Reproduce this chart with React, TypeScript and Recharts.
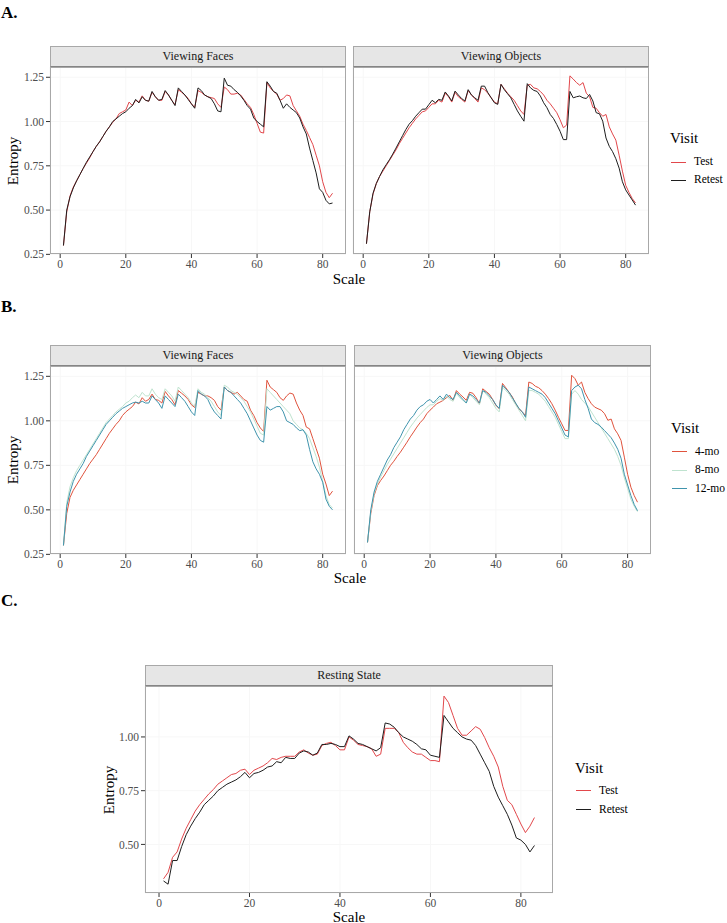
import React from 'react';
import { LineChart, Line, XAxis, YAxis, CartesianGrid } from 'recharts';

const SCALES = [
  1, 2, 3, 4, 5, 6, 7, 8, 9, 10, 11, 12, 13, 14, 15, 16, 17, 18, 19, 20,
  21, 22, 23, 24, 25, 26, 27, 28, 29, 30, 31, 32, 33, 34, 35, 36, 37, 38, 39, 40,
  41, 42, 43, 44, 45, 46, 47, 48, 49, 50, 51, 52, 53, 54, 55, 56, 57, 58, 59, 60,
  61, 62, 63, 64, 65, 66, 67, 68, 69, 70, 71, 72, 73, 74, 75, 76, 77, 78, 79, 80,
  81, 82, 83,
];
const X_TICKS = [0, 20, 40, 60, 80];
const Y_TICKS_AB = [0.25, 0.5, 0.75, 1.0, 1.25];
const Y_TICKS_C = [0.5, 0.75, 1.0];
const VISIT_AC = ['Test', 'Retest'];
const VISIT_B = ['4-mo', '8-mo', '12-mo'];
const FACETS_AB = ['Viewing Faces', 'Viewing Objects'];
const FACET_C = 'Resting State';

// Panel A — Viewing Faces
const A_FACES_TEST = [
  0.30, 0.49, 0.58, 0.63, 0.665, 0.70, 0.735, 0.765, 0.795, 0.83,
  0.86, 0.885, 0.915, 0.945, 0.97, 0.995, 1.015, 1.045, 1.055, 1.065,
  1.11, 1.09, 1.12, 1.11, 1.145, 1.12, 1.115, 1.165, 1.14, 1.12,
  1.12, 1.17, 1.15, 1.12, 1.095, 1.18, 1.165, 1.15, 1.13, 1.10,
  1.08, 1.175, 1.165, 1.15, 1.14, 1.135, 1.13, 1.10, 1.08, 1.195,
  1.18, 1.155, 1.155, 1.16, 1.15, 1.125, 1.10, 1.08, 1.04, 0.99,
  0.94, 0.935, 1.22, 1.19, 1.17, 1.155, 1.12, 1.13, 1.15, 1.145,
  1.09, 1.06, 1.03, 0.985, 0.95, 0.91, 0.87, 0.81, 0.75, 0.66,
  0.60, 0.57, 0.595,
];
const A_FACES_RETEST = [
  0.30, 0.50, 0.575, 0.625, 0.665, 0.70, 0.735, 0.77, 0.80, 0.83,
  0.86, 0.885, 0.915, 0.945, 0.97, 1.00, 1.015, 1.03, 1.045, 1.055,
  1.075, 1.09, 1.125, 1.105, 1.14, 1.12, 1.115, 1.17, 1.14, 1.12,
  1.125, 1.175, 1.15, 1.12, 1.09, 1.19, 1.17, 1.15, 1.125, 1.10,
  1.075, 1.19, 1.175, 1.15, 1.14, 1.13, 1.10, 1.06, 1.055, 1.245,
  1.205, 1.20, 1.18, 1.165, 1.145, 1.12, 1.09, 1.07, 1.02, 1.00,
  0.985, 0.97, 1.225, 1.20, 1.17, 1.16, 1.12, 1.075, 1.10, 1.08,
  1.065, 1.05, 1.02, 0.97, 0.93, 0.85, 0.78, 0.71, 0.62, 0.60,
  0.555, 0.535, 0.54,
];
// Panel A — Viewing Objects
const A_OBJECTS_TEST = [
  0.31, 0.49, 0.59, 0.65, 0.69, 0.72, 0.75, 0.78, 0.81, 0.84,
  0.875, 0.905, 0.935, 0.965, 0.99, 1.015, 1.035, 1.055, 1.06, 1.08,
  1.10, 1.10, 1.12, 1.11, 1.16, 1.14, 1.11, 1.165, 1.14, 1.125,
  1.11, 1.175, 1.15, 1.13, 1.11, 1.19, 1.18, 1.16, 1.135, 1.11,
  1.10, 1.21, 1.185, 1.16, 1.14, 1.12, 1.09, 1.06, 1.04, 1.205,
  1.21, 1.19, 1.185, 1.17, 1.15, 1.12, 1.10, 1.075, 1.05, 1.01,
  0.965, 0.98, 1.258, 1.24, 1.22, 1.205, 1.22, 1.16, 1.14, 1.08,
  1.075, 1.05, 1.03, 1.04, 0.97, 0.93, 0.895, 0.81, 0.72, 0.64,
  0.60, 0.565, 0.54,
];
const A_OBJECTS_RETEST = [
  0.31, 0.49, 0.595, 0.65, 0.69, 0.727, 0.756, 0.784, 0.816, 0.85,
  0.885, 0.92, 0.955, 0.985, 1.005, 1.03, 1.05, 1.07, 1.07, 1.095,
  1.12, 1.106, 1.125, 1.12, 1.167, 1.144, 1.116, 1.172, 1.15, 1.13,
  1.116, 1.18, 1.15, 1.134, 1.12, 1.20, 1.20, 1.163, 1.134, 1.106,
  1.097, 1.21, 1.18, 1.157, 1.134, 1.097, 1.06, 1.03, 1.002, 1.214,
  1.19, 1.176, 1.17, 1.144, 1.106, 1.078, 1.04, 1.017, 0.983, 0.945,
  0.898, 0.898, 1.17, 1.134, 1.14, 1.144, 1.134, 1.13, 1.153, 1.116,
  1.05, 1.044, 1.002, 0.907, 0.86, 0.83, 0.79, 0.737, 0.66, 0.614,
  0.585, 0.557, 0.528,
];

// Panel B — Viewing Faces
const B_FACES_4MO = [
  0.30, 0.48, 0.57, 0.61, 0.64, 0.67, 0.70, 0.73, 0.76, 0.785,
  0.81, 0.84, 0.87, 0.90, 0.93, 0.955, 0.98, 1.00, 1.03, 1.05,
  1.065, 1.08, 1.105, 1.095, 1.13, 1.11, 1.12, 1.15, 1.12, 1.115,
  1.10, 1.165, 1.14, 1.12, 1.09, 1.17, 1.155, 1.14, 1.12, 1.09,
  1.075, 1.16, 1.15, 1.14, 1.14, 1.13, 1.115, 1.08, 1.06, 1.19,
  1.17, 1.16, 1.15, 1.16, 1.14, 1.12, 1.11, 1.06, 1.03, 0.99,
  0.96, 0.94, 1.228, 1.19, 1.175, 1.16, 1.13, 1.115, 1.14, 1.156,
  1.15, 1.10, 1.06, 1.03, 0.965, 0.955, 0.90, 0.845, 0.79, 0.70,
  0.645, 0.58, 0.605,
];
const B_FACES_8MO = [
  0.30, 0.54, 0.63, 0.68, 0.72, 0.75, 0.78, 0.81, 0.84, 0.87,
  0.90, 0.93, 0.96, 0.99, 1.01, 1.03, 1.05, 1.065, 1.08, 1.10,
  1.11, 1.13, 1.145, 1.13, 1.16, 1.14, 1.14, 1.18, 1.15, 1.13,
  1.12, 1.18, 1.16, 1.14, 1.11, 1.19, 1.17, 1.15, 1.13, 1.10,
  1.08, 1.18, 1.16, 1.15, 1.13, 1.11, 1.08, 1.05, 1.03, 1.20,
  1.19, 1.17, 1.16, 1.15, 1.13, 1.11, 1.08, 1.05, 1.01, 0.97,
  0.93, 0.92, 1.18, 1.16, 1.14, 1.12, 1.10, 1.08, 1.06, 1.04,
  1.00, 0.98, 0.96, 0.95, 0.93, 0.90, 0.85, 0.80, 0.74, 0.66,
  0.58, 0.53, 0.51,
];
const B_FACES_12MO = [
  0.30, 0.52, 0.60, 0.66, 0.70, 0.73, 0.76, 0.80, 0.83, 0.86,
  0.89, 0.92, 0.95, 0.98, 1.00, 1.02, 1.04, 1.055, 1.07, 1.08,
  1.09, 1.10, 1.105, 1.10, 1.11, 1.10, 1.10, 1.14, 1.12, 1.10,
  1.07, 1.14, 1.12, 1.10, 1.08, 1.15, 1.13, 1.11, 1.08, 1.05,
  1.03, 1.17, 1.15, 1.14, 1.12, 1.08, 1.05, 1.03, 1.01, 1.19,
  1.17, 1.16, 1.14, 1.12, 1.10, 1.07, 1.04, 1.00, 0.96, 0.92,
  0.89, 0.88, 1.08, 1.06, 1.07, 1.08, 1.08, 1.05, 1.00, 0.99,
  0.98, 0.96, 0.945, 0.95, 0.92, 0.84, 0.77, 0.73, 0.70, 0.655,
  0.56, 0.52, 0.50,
];
// Panel B — Viewing Objects
const B_OBJECTS_4MO = [
  0.317, 0.48, 0.58, 0.636, 0.665, 0.69, 0.72, 0.75, 0.773, 0.80,
  0.824, 0.852, 0.88, 0.91, 0.937, 0.965, 0.99, 1.01, 1.04, 1.06,
  1.077, 1.096, 1.105, 1.115, 1.13, 1.143, 1.115, 1.17, 1.15, 1.134,
  1.115, 1.16, 1.155, 1.13, 1.096, 1.18, 1.165, 1.15, 1.12, 1.087,
  1.068, 1.21, 1.186, 1.16, 1.134, 1.096, 1.068, 1.05, 1.03, 1.218,
  1.21, 1.194, 1.186, 1.17, 1.15, 1.125, 1.096, 1.06, 1.02, 0.983,
  0.946, 0.946, 1.256, 1.237, 1.20, 1.218, 1.16, 1.125, 1.096, 1.077,
  1.068, 1.06, 1.04, 1.003, 1.01, 0.955, 0.927, 0.89, 0.796, 0.70,
  0.627, 0.58, 0.543,
];
const B_OBJECTS_8MO = [
  0.317, 0.49, 0.59, 0.645, 0.685, 0.72, 0.755, 0.785, 0.815, 0.845,
  0.875, 0.905, 0.935, 0.965, 0.99, 1.015, 1.035, 1.055, 1.075, 1.09,
  1.09, 1.11, 1.125, 1.115, 1.14, 1.12, 1.11, 1.155, 1.13, 1.115,
  1.10, 1.15, 1.13, 1.11, 1.09, 1.17, 1.15, 1.13, 1.10, 1.07,
  1.05, 1.19, 1.17, 1.15, 1.12, 1.09, 1.06, 1.03, 1.00, 1.17,
  1.17, 1.16, 1.15, 1.13, 1.11, 1.08, 1.05, 1.02, 0.98, 0.94,
  0.90, 0.90, 1.15, 1.17, 1.15, 1.12, 1.10, 1.08, 1.05, 1.02,
  0.99, 0.96, 0.93, 0.90, 0.87, 0.84, 0.80, 0.75, 0.68, 0.62,
  0.56, 0.52, 0.49,
];
const B_OBJECTS_12MO = [
  0.317, 0.50, 0.60, 0.66, 0.70, 0.74, 0.78, 0.81, 0.85, 0.88,
  0.91, 0.95, 0.98, 1.01, 1.03, 1.06, 1.08, 1.09, 1.11, 1.12,
  1.10, 1.12, 1.14, 1.12, 1.15, 1.13, 1.12, 1.16, 1.14, 1.12,
  1.10, 1.15, 1.14, 1.12, 1.10, 1.17, 1.16, 1.14, 1.12, 1.09,
  1.07, 1.20, 1.18, 1.16, 1.13, 1.10, 1.07, 1.05, 1.02, 1.19,
  1.18, 1.17, 1.16, 1.15, 1.13, 1.10, 1.07, 1.04, 1.00, 0.96,
  0.92, 0.91, 1.17, 1.19, 1.20, 1.18, 1.12, 1.07, 1.01, 0.99,
  0.98, 0.965, 0.945, 0.925, 0.905, 0.875, 0.84, 0.79, 0.70, 0.64,
  0.58, 0.53, 0.495,
];

// Panel C — Resting State
const C_REST_TEST = [
  0.34, 0.37, 0.44, 0.465, 0.525, 0.575, 0.615, 0.655, 0.685, 0.71,
  0.735, 0.755, 0.78, 0.795, 0.81, 0.825, 0.83, 0.845, 0.85, 0.825,
  0.845, 0.855, 0.865, 0.88, 0.90, 0.895, 0.905, 0.91, 0.91, 0.91,
  0.93, 0.94, 0.925, 0.915, 0.92, 0.96, 0.97, 0.975, 0.96, 0.94,
  0.94, 1.00, 0.985, 0.965, 0.96, 0.955, 0.945, 0.91, 0.92, 1.04,
  1.04, 1.04, 1.02, 0.975, 0.95, 0.93, 0.92, 0.92, 0.905, 0.89,
  0.89, 0.885, 1.19, 1.16, 1.10, 1.04, 1.008, 1.008, 1.028, 1.048,
  1.036, 0.997, 0.95, 0.91, 0.86, 0.77, 0.705, 0.685, 0.64, 0.595,
  0.555, 0.585, 0.625,
];
const C_REST_RETEST = [
  0.33, 0.315, 0.425, 0.425, 0.49, 0.545, 0.585, 0.62, 0.65, 0.685,
  0.705, 0.725, 0.75, 0.765, 0.78, 0.79, 0.80, 0.815, 0.835, 0.81,
  0.83, 0.835, 0.845, 0.86, 0.865, 0.885, 0.88, 0.905, 0.90, 0.90,
  0.925, 0.935, 0.93, 0.915, 0.925, 0.965, 0.965, 0.97, 0.965, 0.955,
  0.955, 1.005, 0.99, 0.97, 0.965, 0.955, 0.945, 0.935, 0.95, 1.065,
  1.06, 1.045, 1.02, 1.00, 0.99, 0.98, 0.965, 0.945, 0.94, 0.915,
  0.91, 0.905, 1.10, 1.07, 1.04, 1.02, 1.00, 0.99, 0.985, 0.96,
  0.92, 0.88, 0.84, 0.77, 0.72, 0.68, 0.64, 0.59, 0.53, 0.52,
  0.50, 0.465, 0.495,
];

const COLORS_AC = ['#e2474b', '#1e1e1e'];
const COLORS_B = ['#e0533d', '#bfe3cf', '#3f94ad'];

const FONT = "'Liberation Serif', 'DejaVu Serif', serif";
const X_DOMAIN: [number, number] = [-3.1, 87.1];
const Y_DOMAIN_AB: [number, number] = [0.252, 1.308];
const Y_DOMAIN_C: [number, number] = [0.274, 1.237];

function buildRows(series: number[][]) {
  return SCALES.map((s, i) => {
    const row: Record<string, number> = { scale: s };
    series.forEach((arr, k) => {
      row['s' + k] = arr[i];
    });
    return row;
  });
}

type PanelProps = {
  left: number;
  top: number;
  width: number;
  height: number;
  title: string;
  series: number[][];
  colors: string[];
  yDomain: [number, number];
  yTicks: number[];
  showY: boolean;
};

const YW = 50;
const XH = 24;
const STRIP_H = 21;

function Panel(p: PanelProps) {
  const data = buildRows(p.series);
  return (
    <>
      <div
        style={{
          position: 'absolute',
          left: p.left,
          top: p.top - STRIP_H,
          width: p.width,
          height: STRIP_H,
          boxSizing: 'border-box',
          background: '#e6e6e6',
          border: '1px solid #a8a8a8',
          borderBottom: '1.5px solid #858585',
          textAlign: 'center',
          lineHeight: STRIP_H - 2 + 'px',
          fontSize: 12,
          color: '#1a1a1a',
          fontFamily: FONT,
        }}
      >
        {p.title}
      </div>
      <div style={{ position: 'absolute', left: p.left - YW, top: p.top }}>
        <LineChart
          width={p.width + YW}
          height={p.height + XH}
          data={data}
          margin={{ top: 0, right: 0, bottom: 0, left: p.showY ? 0 : YW }}
        >
          <CartesianGrid stroke="#f7f7f7" strokeWidth={1} />
          <XAxis
            type="number"
            dataKey="scale"
            domain={X_DOMAIN}
            ticks={X_TICKS}
            allowDataOverflow
            interval={0}
            height={XH}
            tickSize={4}
            tickMargin={2}
            axisLine={false}
            tickLine={{ stroke: '#333333' }}
            tick={{ fill: '#4d4d4d', fontSize: 11.5, fontFamily: FONT }}
          />
          <YAxis
            type="number"
            domain={p.yDomain}
            ticks={p.yTicks}
            allowDataOverflow
            interval={0}
            hide={!p.showY}
            width={YW}
            tickSize={4}
            tickMargin={2}
            axisLine={false}
            tickLine={{ stroke: '#333333' }}
            tick={{ fill: '#4d4d4d', fontSize: 11.5, fontFamily: FONT }}
            tickFormatter={(v: number) => v.toFixed(2)}
          />
          {p.series.map((_, k) => (
            <Line
              key={k}
              type="linear"
              dataKey={'s' + k}
              stroke={p.colors[k]}
              strokeWidth={1}
              dot={false}
              activeDot={false}
              isAnimationActive={false}
            />
          ))}
        </LineChart>
      </div>
      <div
        style={{
          position: 'absolute',
          left: p.left,
          top: p.top,
          width: p.width,
          height: p.height,
          boxSizing: 'border-box',
          border: '1px solid #a8a8a8',
          pointerEvents: 'none',
        }}
      />
    </>
  );
}

function Txt(props: { x: number; cy: number; size: number; children: React.ReactNode; bold?: boolean; center?: boolean; w?: number }) {
  const h = props.size + 6;
  const w = props.w ?? 200;
  return (
    <div
      style={{
        position: 'absolute',
        left: props.center ? props.x - w / 2 : props.x,
        top: props.cy - h / 2,
        width: props.center ? w : undefined,
        height: h,
        lineHeight: h + 'px',
        fontSize: props.size,
        fontWeight: props.bold ? 'bold' : 'normal',
        fontFamily: FONT,
        color: '#000',
        textAlign: props.center ? 'center' : 'left',
        whiteSpace: 'nowrap',
      }}
    >
      {props.children}
    </div>
  );
}

function VText(props: { cx: number; cy: number; children: React.ReactNode }) {
  const w = 100;
  const h = 20;
  return (
    <div
      style={{
        position: 'absolute',
        left: props.cx - w / 2,
        top: props.cy - h / 2,
        width: w,
        height: h,
        lineHeight: h + 'px',
        textAlign: 'center',
        fontSize: 15,
        fontFamily: FONT,
        color: '#000',
        transform: 'rotate(-90deg)',
      }}
    >
      {props.children}
    </div>
  );
}

function Legend(props: { x: number; titleCy: number; itemCys: number[]; labels: string[]; colors: string[] }) {
  return (
    <>
      <Txt x={props.x} cy={props.titleCy} size={15}>Visit</Txt>
      {props.labels.map((lab, i) => (
        <React.Fragment key={lab}>
          <div
            style={{
              position: 'absolute',
              left: props.x + 1,
              top: props.itemCys[i] - 0.5,
              width: 15,
              height: 1.2,
              background: props.colors[i],
            }}
          />
          <Txt x={props.x + 24} cy={props.itemCys[i]} size={11.5}>{lab}</Txt>
        </React.Fragment>
      ))}
    </>
  );
}

export default function App() {
  return (
    <div style={{ position: 'absolute', left: 0, top: 0, width: 727, height: 923, background: '#fff', overflow: 'hidden' }}>
      <Txt x={1} cy={12} size={17} bold>A.</Txt>
      <Panel left={50} top={67} width={296} height={187} title={FACETS_AB[0]}
        series={[A_FACES_TEST, A_FACES_RETEST]} colors={COLORS_AC}
        yDomain={Y_DOMAIN_AB} yTicks={Y_TICKS_AB} showY />
      <Panel left={353} top={67} width={296} height={187} title={FACETS_AB[1]}
        series={[A_OBJECTS_TEST, A_OBJECTS_RETEST]} colors={COLORS_AC}
        yDomain={Y_DOMAIN_AB} yTicks={Y_TICKS_AB} showY={false} />
      <VText cx={12.5} cy={160.5}>Entropy</VText>
      <Txt x={349} cy={279} size={15} center>Scale</Txt>
      <Legend x={670} titleCy={138} itemCys={[162, 180]} labels={VISIT_AC} colors={COLORS_AC} />

      <Txt x={1} cy={306} size={17} bold>B.</Txt>
      <Panel left={50} top={366} width={296} height={188} title={FACETS_AB[0]}
        series={[B_FACES_4MO, B_FACES_8MO, B_FACES_12MO]} colors={COLORS_B}
        yDomain={Y_DOMAIN_AB} yTicks={Y_TICKS_AB} showY />
      <Panel left={354} top={366} width={297} height={188} title={FACETS_AB[1]}
        series={[B_OBJECTS_4MO, B_OBJECTS_8MO, B_OBJECTS_12MO]} colors={COLORS_B}
        yDomain={Y_DOMAIN_AB} yTicks={Y_TICKS_AB} showY={false} />
      <VText cx={12.5} cy={460}>Entropy</VText>
      <Txt x={350} cy={578} size={15} center>Scale</Txt>
      <Legend x={671} titleCy={428} itemCys={[451.7, 470, 488.3]} labels={VISIT_B} colors={COLORS_B} />

      <Txt x={1} cy={600} size={17} bold>C.</Txt>
      <Panel left={145} top={686} width={408} height={207} title={FACET_C}
        series={[C_REST_TEST, C_REST_RETEST]} colors={COLORS_AC}
        yDomain={Y_DOMAIN_C} yTicks={Y_TICKS_C} showY />
      <VText cx={109} cy={789.5}>Entropy</VText>
      <Txt x={349} cy={917} size={15} center>Scale</Txt>
      <Legend x={575} titleCy={768} itemCys={[790.7, 809.3]} labels={VISIT_AC} colors={COLORS_AC} />
    </div>
  );
}
